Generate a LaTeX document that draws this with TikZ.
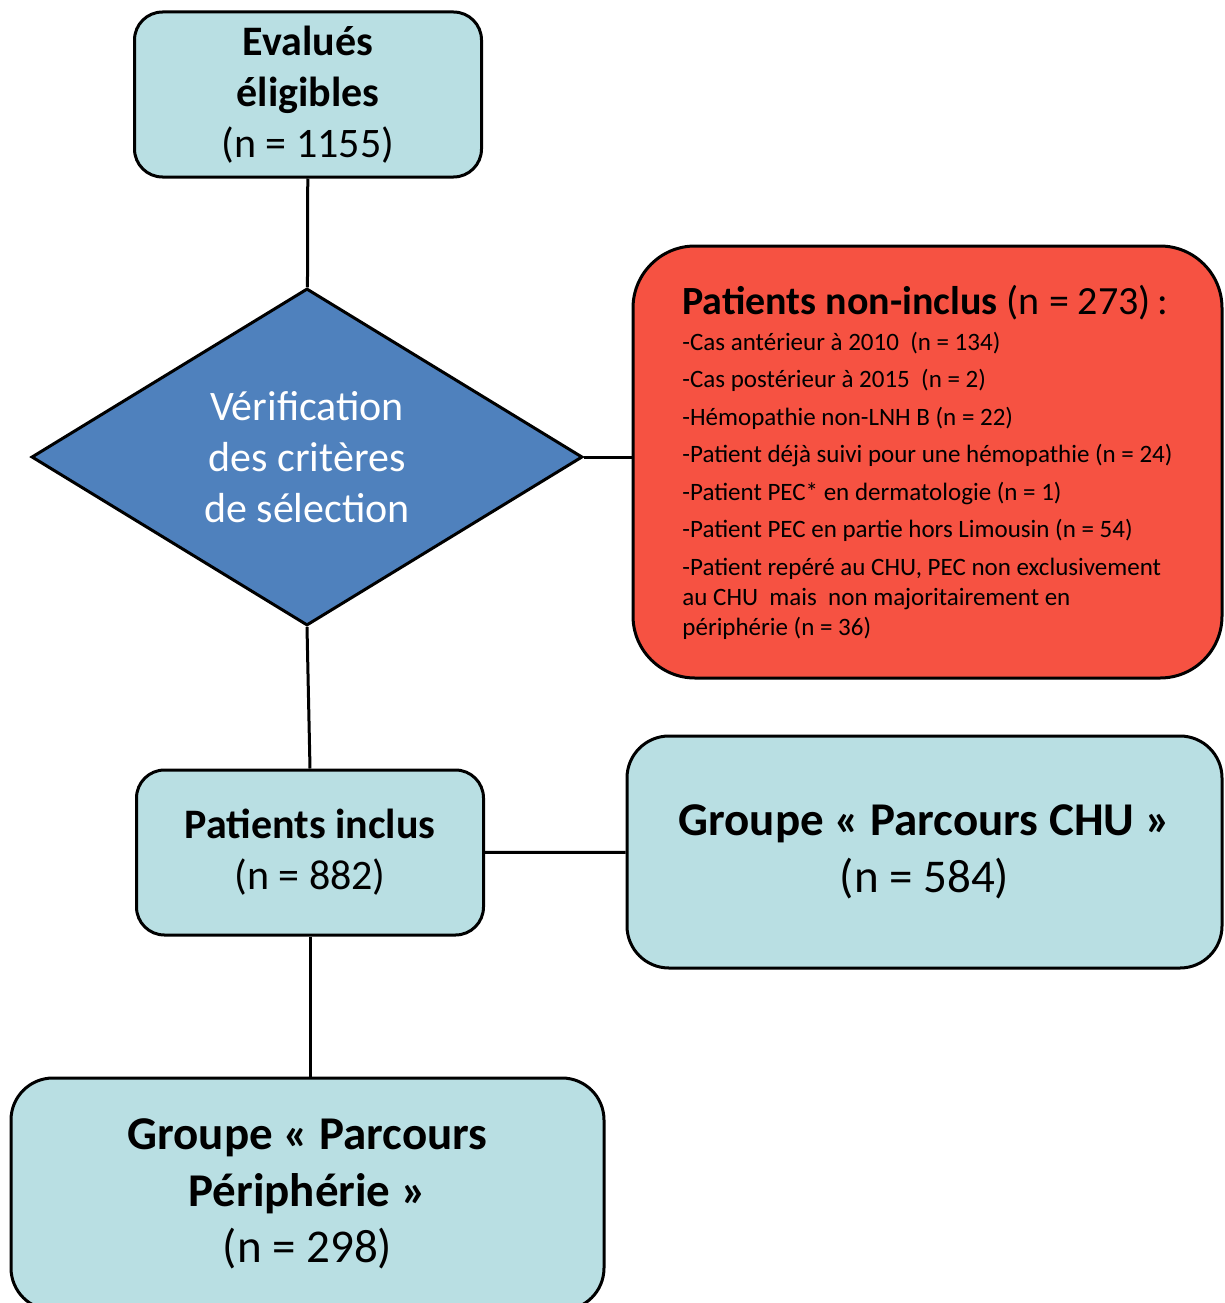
\documentclass[tikz,border=0pt]{standalone}
\usepackage{fontspec}
\setmainfont{Carlito}
\usepackage{xcolor}
\usepackage{tikz}
\usetikzlibrary{shapes.geometric,positioning}

\definecolor{boxcyan}{HTML}{B9DFE3}
\definecolor{critblue}{HTML}{4F81BD}
\definecolor{exclred}{HTML}{F65242}

\begin{document}
\begin{tikzpicture}[
  x=1pt, y=-1pt,
  line width=3pt,
  every node/.style={font=\fontsize{42}{51}\selectfont, align=center},
  box/.style={draw, fill=boxcyan, rounded corners=28pt, inner sep=0pt,
              minimum width=347pt, minimum height=165pt},
  bigbox/.style={draw, fill=boxcyan, rounded corners=42pt, inner sep=0pt,
                 font=\fontsize{47}{56.5}\selectfont, minimum width=595pt},
  critbox/.style={draw, fill=critblue, diamond, inner sep=0pt, text=white,
                  minimum width=551pt, minimum height=327pt},
  exclbox/.style={draw, fill=exclred, rounded corners=62pt, inner sep=0pt,
                  align=left, font=\fontsize{25}{30}\selectfont,
                  minimum width=589pt, minimum height=432pt},
]

\useasboundingbox (0,0) rectangle (1224,1303);

%% ── Left column ──────────────────────────────────────────────────────────────
\node[box] (eval) at (308, 94.5)
  {\textbf{Evalués}\\ \textbf{éligibles}\\ (n = 1155)};

\node[critbox] (verif) at (307, 457)
  {Vérification\\ des critères\\ de sélection};

\node[box] (inclus) at (310, 852.5)
  {\textbf{Patients inclus}\\ (n = 882)};

% bottom edge runs off the page
\node[bigbox, minimum width=593pt, minimum height=232pt] (periph) at (307.5, 1194)
  {\textbf{Groupe « Parcours}\\ \textbf{Périphérie »}\\ (n = 298)};

%% ── Right column ─────────────────────────────────────────────────────────────
\node[exclbox] (nonincl) at (927.5, 462)
  {{\fontsize{40}{48}\selectfont\textbf{Patients non-inclus} (n = 273)\,:}\\[6pt]
   -Cas antérieur à 2010\ \ (n = 134)\\[7.5pt]
   -Cas postérieur à 2015\ \ (n = 2)\\[7.5pt]
   -Hémopathie non-LNH B (n = 22)\\[7.5pt]
   -Patient déjà suivi pour une hémopathie (n = 24)\\[7.5pt]
   -Patient PEC* en dermatologie (n = 1)\\[7.5pt]
   -Patient PEC en partie hors Limousin (n = 54)\\[7.5pt]
   -Patient repéré au CHU, PEC non exclusivement\\
   au CHU\ \ mais\ \ non majoritairement en\\
   périphérie (n = 36)};

\node[bigbox, minimum height=232pt] (chu) at (924.5, 852)
  {\textbf{Groupe « Parcours CHU »}\\ (n = 584)};

%% ── Connectors ───────────────────────────────────────────────────────────────
\draw (eval) -- (verif);
\draw (verif.east) -- (verif.east -| nonincl.west);
\draw (verif.south) -- (inclus.north);
\draw (inclus) -- (chu);
\draw (inclus.south) -- (inclus.south |- periph.north);

\end{tikzpicture}
\end{document}
